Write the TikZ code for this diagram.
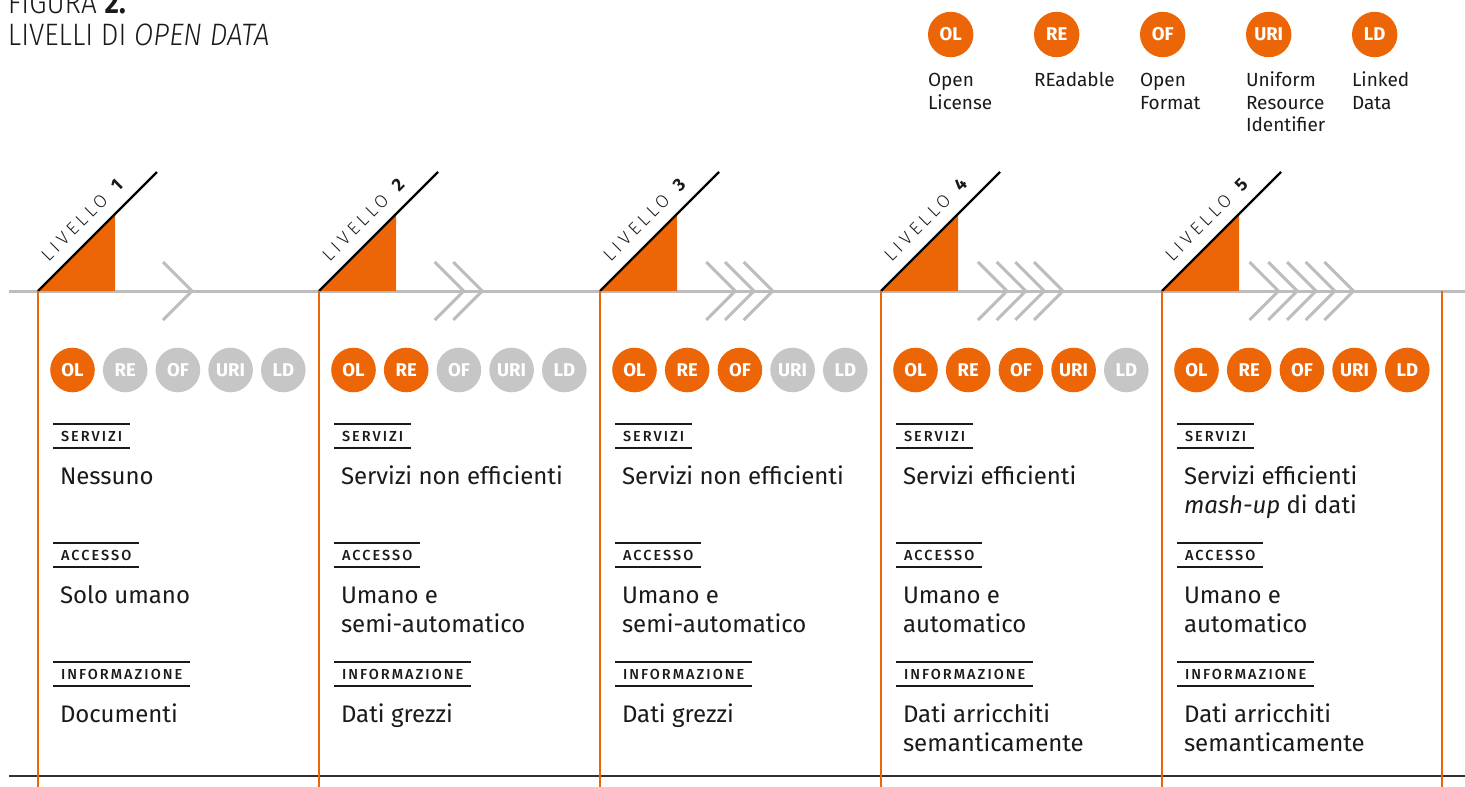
\documentclass[tikz,border=0pt]{standalone}
\usepackage{fontspec}
\setmainfont{Fira Sans}
\IfFontExistsTF{Fira Sans Light}{%
  \newfontfamily\lightfont{Fira Sans Light}[BoldFont={Fira Sans Bold}]
  \newfontfamily\titlefont{Fira Sans Light}[FakeStretch=0.9, BoldFont={Fira Sans Bold}]
}{%
  \newfontfamily\lightfont{Fira Sans}
  \newfontfamily\titlefont{Fira Sans}[FakeStretch=0.9]
}
\IfFontExistsTF{Fira Sans Medium}{%
  \newfontfamily\tagfont{Fira Sans Medium}
}{%
  \newfontfamily\tagfont{Fira Sans}
}
\definecolor{opor}{HTML}{EC6608}
\definecolor{cgray}{HTML}{C6C6C6}
\definecolor{lgray}{HTML}{BDBDBD}
\definecolor{ink}{HTML}{1A1A1A}
\newcommand\mltext[1]{\begin{tabular}[t]{@{}l@{}}#1\end{tabular}}
\tikzset{
  every node/.style={inner sep=0pt, outer sep=0pt},
  circon/.style={circle, fill=opor, minimum size=44.6pt, text=white, font=\fontsize{18.5}{18.5}\selectfont\bfseries},
  circoff/.style={circon, fill=cgray},
  cattag/.style={anchor=north west, minimum height=24pt, inner xsep=8pt, text=ink, font=\tagfont\fontsize{14.5}{14.5}\selectfont\addfontfeature{LetterSpace=14}},
  tagtop/.style={draw=ink, line width=1.3pt},
  tagbot/.style={draw=ink, line width=2.4pt},
  bodytxt/.style={anchor=base west, text=ink, font=\fontsize{24}{29.5}\selectfont},
  legtxt/.style={anchor=base west, text=ink, font=\fontsize{19}{22.6}\selectfont},
  lvllab/.style={anchor=base west, rotate=45, text=ink, font=\lightfont\fontsize{18}{18}\selectfont\addfontfeature{LetterSpace=22}},
  lvltri/.style={fill=opor},
  diagline/.style={draw=black, line width=2.2pt},
  chev/.style={draw=lgray, line width=3pt},
  axisline/.style={draw=lgray, line width=3pt},
  vline/.style={draw=opor, line width=1.6pt},
  baseline/.style={draw=ink!90, line width=1.5pt},
  titletxt/.style={anchor=base west, text=ink, font=\titlefont\fontsize{31}{31}\selectfont}
}
\newcommand\levelcol[5]{%
  % #1 level, #2 x, #3 servizi, #4 accesso, #5 informazione
  \fill[lvltri] (#2,291) -- (#2+77,291) -- (#2+77,214) -- cycle;
  \draw[diagline] (#2,291) -- (#2+119,172);
  \node[lvllab] (lv#1) at (#2+10.6,262) {LIVELLO \textbf{#1}};
  \foreach \k in {1,...,#1} {
    \pgfmathsetmacro\tip{#2+154+(\k-1-(#1-1)/2)*18.7}
    \draw[chev] (\tip-29,262) -- (\tip,291) -- (\tip-29,320);
  }
  \draw[vline] (#2,291) -- (#2,787);
  \foreach \k/\t in {0/OL,1/RE,2/OF,3/URI,4/LD} {
    \ifnum\k<#1\relax
      \node[circon] (c#1\t) at (#2+34.5+52.7*\k,370) {\t};
    \else
      \node[circoff] (c#1\t) at (#2+34.5+52.7*\k,370) {\t};
    \fi
  }
  \node[cattag] (s#1) at (#2+15,424) {SERVIZI};
  \draw[tagtop] (s#1.north west) -- (s#1.north east);
  \draw[tagbot] (s#1.south west) -- (s#1.south east);
  \node[bodytxt] (bs#1) at (#2+22,484) {\mltext{#3}};
  \node[cattag] (a#1) at (#2+15,543) {ACCESSO};
  \draw[tagtop] (a#1.north west) -- (a#1.north east);
  \draw[tagbot] (a#1.south west) -- (a#1.south east);
  \node[bodytxt] (ba#1) at (#2+22,603) {\mltext{#4}};
  \node[cattag] (i#1) at (#2+15,662) {INFORMAZIONE};
  \draw[tagtop] (i#1.north west) -- (i#1.north east);
  \draw[tagbot] (i#1.south west) -- (i#1.south east);
  \node[bodytxt] (bi#1) at (#2+22,722) {\mltext{#5}};
}
\begin{document}
\begin{tikzpicture}[x=1pt, y=-1pt]
  \useasboundingbox (0,0) rectangle (1465,787);
  % title
  \node[titletxt] (title1) at (8,13.3) {FIGURA \textbf{2.}};
  \node[titletxt] (title2) at (8,45) {LIVELLI DI \textit{OPEN DATA}};
  % legend
  \foreach \k/\t/\d in {0/OL/{Open\\License},1/RE/{REadable},2/OF/{Open\\Format},3/URI/{Uniform\\Resource\\Identifier},4/LD/{Linked\\Data}} {
    \node[circon, minimum size=45.4pt] (leg\t) at (950.7+106*\k,34.5) {\t};
    \node[legtxt] (legt\t) at (950.7+106*\k-22.7,86.7) {\mltext{\d}};
  }
  % axis
  \draw[axisline] (9,291) -- (1465,291);
  \draw[baseline] (9,776) -- (1465,776);
  \levelcol{1}{38}{Nessuno}{Solo umano}{Documenti}
  \levelcol{2}{319}{Servizi non efficienti}{Umano e\\semi-automatico}{Dati grezzi}
  \levelcol{3}{600}{Servizi non efficienti}{Umano e\\semi-automatico}{Dati grezzi}
  \levelcol{4}{881}{Servizi efficienti}{Umano e\\automatico}{Dati arricchiti\\semanticamente}
  \levelcol{5}{1162}{Servizi efficienti\\\textit{mash-up} di dati}{Umano e\\automatico}{Dati arricchiti\\semanticamente}
  \draw[vline] (1442,291) -- (1442,787);
\end{tikzpicture}
\end{document}
